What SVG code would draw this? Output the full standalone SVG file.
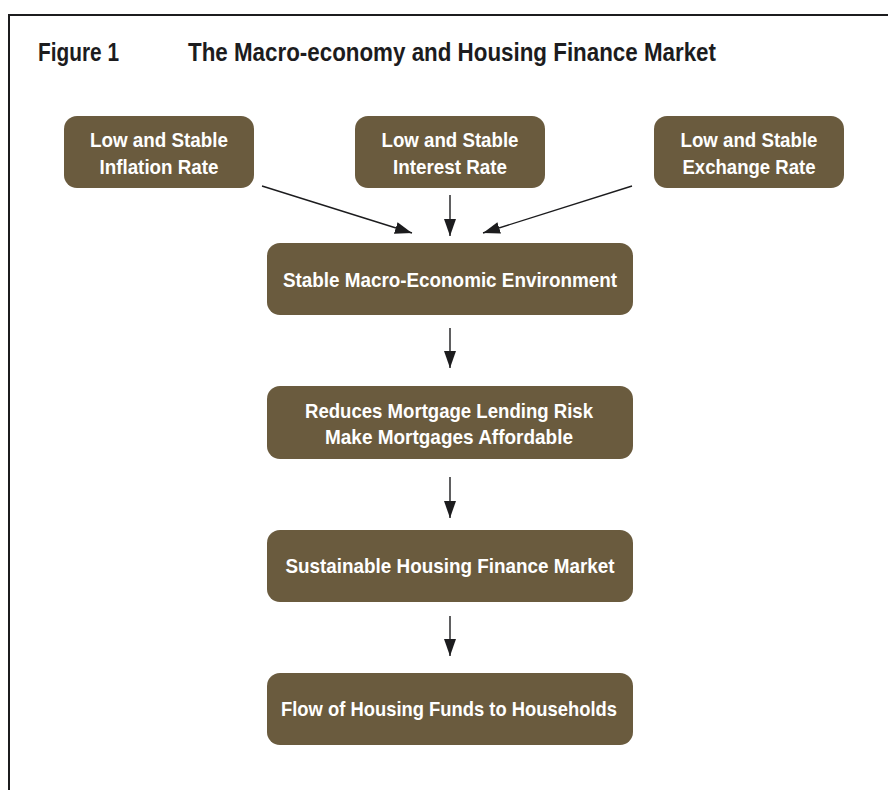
<svg xmlns="http://www.w3.org/2000/svg" width="888" height="790" viewBox="0 0 888 790">
  <style>
    .box { fill: #6a5b3e; }
    .bt { fill: #ffffff; font-family: "Liberation Sans", Arial, sans-serif; font-weight: bold; font-size: 21px; text-anchor: middle; }
    .title { fill: #1c1c1e; font-family: "Liberation Sans", Arial, sans-serif; font-weight: bold; font-size: 26px; }
    .conn { stroke: #1c1c1e; stroke-width: 1.4; fill: none; marker-end: url(#ah); }
    .frame { stroke: #1c1c1e; stroke-width: 2; fill: none; }
  </style>
  <defs>
    <marker id="ah" markerUnits="userSpaceOnUse" markerWidth="17" markerHeight="12" refX="17" refY="6" orient="auto">
      <path d="M0,0 L17,6 L0,12 Z" fill="#1c1c1e"/>
    </marker>
  </defs>
  <rect width="888" height="790" fill="#ffffff"/>
  <path class="frame" d="M888,15 H9 V790"/>
  <g id="title">
    <text class="title" x="38" y="61" textLength="81" lengthAdjust="spacingAndGlyphs">Figure 1</text>
    <text class="title" x="188" y="61" textLength="528" lengthAdjust="spacingAndGlyphs">The Macro-economy and Housing Finance Market</text>
  </g>
  <g id="connectors">
    <line class="conn" x1="262" y1="186" x2="412" y2="233"/>
    <line class="conn" x1="450" y1="195" x2="450" y2="236"/>
    <line class="conn" x1="632" y1="186" x2="483" y2="233"/>
    <line class="conn" x1="450" y1="328" x2="450" y2="368"/>
    <line class="conn" x1="450" y1="477" x2="450" y2="518"/>
    <line class="conn" x1="450" y1="616" x2="450" y2="656"/>
  </g>
  <g id="inflation">
    <rect class="box" x="64" y="116" width="190" height="72" rx="13"/>
    <text class="bt" x="159" y="147" textLength="138" lengthAdjust="spacingAndGlyphs">Low and Stable</text>
    <text class="bt" x="159" y="174" textLength="119" lengthAdjust="spacingAndGlyphs">Inflation Rate</text>
  </g>
  <g id="interest">
    <rect class="box" x="355" y="116" width="190" height="72" rx="13"/>
    <text class="bt" x="450" y="147" textLength="137" lengthAdjust="spacingAndGlyphs">Low and Stable</text>
    <text class="bt" x="450" y="174" textLength="114" lengthAdjust="spacingAndGlyphs">Interest Rate</text>
  </g>
  <g id="exchange">
    <rect class="box" x="654" y="116" width="190" height="72" rx="13"/>
    <text class="bt" x="749" y="147" textLength="137" lengthAdjust="spacingAndGlyphs">Low and Stable</text>
    <text class="bt" x="749" y="174" textLength="133" lengthAdjust="spacingAndGlyphs">Exchange Rate</text>
  </g>
  <g id="stable">
    <rect class="box" x="267" y="243" width="366" height="72" rx="13"/>
    <text class="bt" x="450" y="287" textLength="334" lengthAdjust="spacingAndGlyphs">Stable Macro-Economic Environment</text>
  </g>
  <g id="reduces">
    <rect class="box" x="267" y="386" width="366" height="73" rx="13"/>
    <text class="bt" x="449" y="418" textLength="288" lengthAdjust="spacingAndGlyphs">Reduces Mortgage Lending Risk</text>
    <text class="bt" x="449" y="444" textLength="248" lengthAdjust="spacingAndGlyphs">Make Mortgages Affordable</text>
  </g>
  <g id="sustainable">
    <rect class="box" x="267" y="530" width="366" height="72" rx="13"/>
    <text class="bt" x="450" y="573" textLength="329" lengthAdjust="spacingAndGlyphs">Sustainable Housing Finance Market</text>
  </g>
  <g id="flow">
    <rect class="box" x="267" y="673" width="366" height="72" rx="13"/>
    <text class="bt" x="449" y="716" textLength="336" lengthAdjust="spacingAndGlyphs">Flow of Housing Funds to Households</text>
  </g>
</svg>
